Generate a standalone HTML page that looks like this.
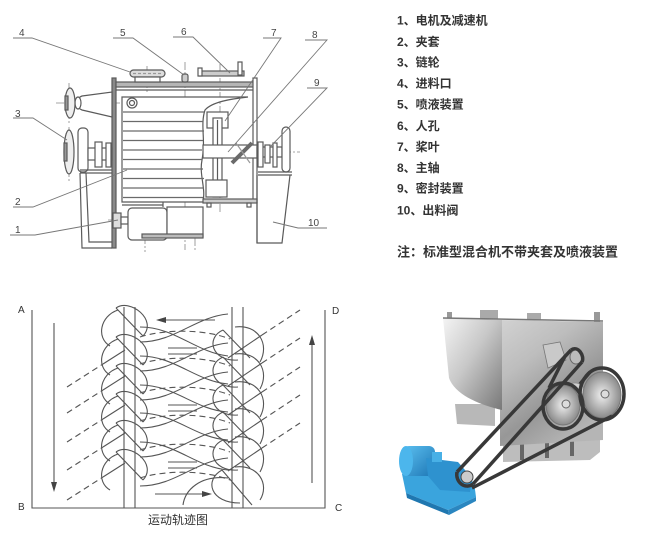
<!DOCTYPE html>
<html><head><meta charset="utf-8"><style>
html,body{margin:0;padding:0;background:#fff;}
svg{display:block;}
.t{font-family:"Liberation Sans","Noto Sans CJK SC",sans-serif;}
</style></head><body>
<svg width="650" height="539" viewBox="0 0 650 539" xmlns="http://www.w3.org/2000/svg">
<defs>
<linearGradient id="gf" x1="0" y1="0" x2="0.6" y2="1">
<stop offset="0" stop-color="#d2d2d2"/><stop offset="0.35" stop-color="#bdbdbd"/><stop offset="0.7" stop-color="#979797"/><stop offset="1" stop-color="#b5b5b5"/></linearGradient>
<linearGradient id="gt" x1="0" y1="0" x2="1" y2="1">
<stop offset="0" stop-color="#f4f4f4"/><stop offset="0.45" stop-color="#c8c8c8"/><stop offset="1" stop-color="#787878"/></linearGradient>
<linearGradient id="gb" x1="0" y1="0" x2="1" y2="1">
<stop offset="0" stop-color="#5cc0f0"/><stop offset="1" stop-color="#1d76b5"/></linearGradient>
<radialGradient id="gp" cx="0.5" cy="0.5" r="0.5"><stop offset="0" stop-color="#f0f0f0"/><stop offset="1" stop-color="#8a8a8a"/></radialGradient>
</defs>

<!-- ============ TOP DRAWING ============ -->
<g stroke="#5a5a5a" stroke-width="1.2" fill="none">
<g stroke="#888" stroke-width="0.8" stroke-dasharray="8,2,2,2">
<line x1="56" y1="103" x2="152" y2="103"/>
<line x1="69" y1="83" x2="69" y2="125"/>
<line x1="69" y1="127" x2="69" y2="182"/>
<line x1="147" y1="66" x2="147" y2="92"/>
<line x1="185" y1="62" x2="185" y2="250"/>
<line x1="220" y1="64" x2="220" y2="213"/>
<line x1="145" y1="222" x2="145" y2="252"/>
<line x1="195" y1="224" x2="195" y2="250"/>
<line x1="255" y1="152" x2="300" y2="152"/>
<line x1="108" y1="220" x2="140" y2="220"/>
</g>
<rect x="112" y="78" width="4" height="170" fill="#8a8a8a"/>
<rect x="116" y="82" width="139" height="5" fill="#b5b5b5"/>
<line x1="116" y1="90" x2="253" y2="90"/>
<rect x="253" y="78" width="4" height="124" fill="#fff"/>
<path d="M122,97 L248,97 C230,99 212,102 205,110 C200,125 206,140 202,160 C199,175 206,188 203,202 L122,202 Z" fill="#fff"/>
<g stroke="#6a6a6a">
<line x1="123" y1="112" x2="204" y2="112"/>
<line x1="123" y1="121.5" x2="203" y2="121.5"/>
<line x1="123" y1="131" x2="204" y2="131"/>
<line x1="123" y1="140.5" x2="203" y2="140.5"/>
<line x1="123" y1="150" x2="202" y2="150"/>
<line x1="123" y1="159.5" x2="202" y2="159.5"/>
<line x1="123" y1="169" x2="203" y2="169"/>
<line x1="123" y1="178.5" x2="204" y2="178.5"/>
<line x1="123" y1="188" x2="204" y2="188"/>
<line x1="123" y1="197.5" x2="203" y2="197.5"/>
</g>
<circle cx="132" cy="103" r="5" fill="#fff"/><circle cx="132" cy="103" r="2.5"/>
<rect x="203" y="199" width="54" height="4" fill="#ccc"/>
<rect x="207" y="203" width="4" height="4"/><rect x="247" y="203" width="4" height="4"/>
<line x1="122" y1="205" x2="163" y2="205"/><line x1="163" y1="202" x2="163" y2="207"/>
<rect x="207" y="112" width="21" height="16" fill="#fff"/>
<rect x="213" y="118" width="9" height="79" fill="#fff"/>
<line x1="217.5" y1="120" x2="217.5" y2="195"/>
<rect x="206" y="180" width="21" height="17" fill="#fff"/>
<rect x="203" y="145" width="54" height="13" fill="#fff"/>
<line x1="232" y1="163" x2="252" y2="143" stroke-width="4" stroke="#6a6a6a"/>
<line x1="236" y1="143" x2="250" y2="163" stroke="#999"/>
<rect x="130" y="70" width="35" height="7" rx="3.5" fill="#ddd"/>
<line x1="133" y1="73.5" x2="162" y2="73.5" stroke="#999" stroke-dasharray="3,2"/>
<rect x="135" y="77" width="25" height="5" fill="#fff"/>
<rect x="182" y="74" width="6" height="8" rx="2" fill="#ccc"/>
<rect x="199" y="71" width="45" height="5" fill="#ccc"/>
<rect x="198" y="68" width="4" height="8" fill="#fff"/>
<rect x="238" y="62" width="4" height="13" fill="#fff"/>
<path d="M82,96 L112,92 L112,117 L82,110 C76,108 76,98 82,96 Z" fill="#fff"/>
<ellipse cx="78" cy="103" rx="3" ry="6" fill="#fff"/>
<ellipse cx="70" cy="103" rx="5" ry="15" fill="#eee"/>
<rect x="65" y="96" width="3" height="14" fill="#999"/>
<ellipse cx="69" cy="152" rx="5" ry="22" fill="#eee"/>
<rect x="64" y="143" width="3" height="18" fill="#999"/>
<rect x="78" y="128" width="10" height="44" rx="4" fill="#fff"/>
<rect x="88" y="148" width="24" height="12" fill="#fff"/>
<rect x="95" y="142" width="7" height="25" fill="#fff"/>
<rect x="106" y="143" width="5" height="24" fill="#fff"/>
<line x1="80" y1="170" x2="112" y2="170"/><line x1="80" y1="173" x2="112" y2="173"/>
<path d="M80,173 L82,248 L112,248"/>
<path d="M86,173 L89,242 L112,242"/>
<rect x="113" y="213" width="8" height="15" fill="#ddd"/>
<rect x="121" y="217" width="7" height="7" fill="#fff"/>
<rect x="128" y="208" width="39" height="32" rx="4" fill="#fff"/>
<rect x="167" y="207" width="36" height="30" fill="#fff"/>
<rect x="142" y="234" width="61" height="4" fill="#bbb"/>
<rect x="257" y="147" width="25" height="10" fill="#fff"/>
<rect x="258" y="142" width="5" height="25" fill="#fff"/>
<rect x="265" y="145" width="5" height="18" fill="#fff"/>
<rect x="273" y="143" width="4" height="24" fill="#fff"/>
<rect x="282" y="127" width="8" height="45" rx="4" fill="#fff"/>
<line x1="258" y1="172" x2="292" y2="172"/><line x1="258" y1="175" x2="292" y2="175"/>
<path d="M257,175 L257,243 L282,243 L290,175"/>
<line x1="257" y1="202" x2="257" y2="243"/>
<g stroke="#777" stroke-width="0.9">
<path d="M13,38 L32,38 L130,72"/>
<path d="M113,38 L133,38 L184,75"/>
<path d="M173,37 L193,37 L230,73"/>
<path d="M263,38 L281,38 L225,121"/>
<path d="M305,40 L327,40 L228,152"/>
<path d="M307,88 L327,88 L270,147"/>
<path d="M13,118 L33,118 L67,140"/>
<path d="M13,207 L33,207 L127,170"/>
<path d="M10,235 L35,235 L118,220"/>
<path d="M273,222 L298,228 L327,228"/>
</g>
</g>
<g class="t" font-size="10" fill="#444">
<text x="19" y="36">4</text>
<text x="120" y="36">5</text>
<text x="181" y="35">6</text>
<text x="271" y="36">7</text>
<text x="312" y="38">8</text>
<text x="314" y="86">9</text>
<text x="15" y="117">3</text>
<text x="15" y="205">2</text>
<text x="15" y="233">1</text>
<text x="308" y="226">10</text>
</g>

<!-- ============ LEGEND ============ -->
<g class="t" font-size="12" fill="#333" font-weight="bold">
<text x="397" y="24.5">1、电机及减速机</text>
<text x="397" y="46">2、夹套</text>
<text x="397" y="66.5">3、链轮</text>
<text x="397" y="87.5">4、进料口</text>
<text x="397" y="108.5">5、喷液装置</text>
<text x="397" y="130">6、人孔</text>
<text x="397" y="151">7、桨叶</text>
<text x="397" y="172">8、主轴</text>
<text x="397" y="192.5">9、密封装置</text>
<text x="397" y="214.5">10、出料阀</text>
<text x="397" y="256.5" font-size="13">注：标准型混合机不带夹套及喷液装置</text>
</g>

<!-- ============ MOTION DIAGRAM ============ -->
<g stroke="#555" stroke-width="1.1" fill="none">
<path d="M32,310 L32,508 L325,508 L325,310"/>
<line x1="124" y1="307" x2="124" y2="508"/><line x1="135" y1="307" x2="135" y2="508"/>
<line x1="232" y1="307" x2="232" y2="508"/><line x1="243" y1="307" x2="243" y2="508"/>
<line x1="54" y1="323" x2="54" y2="486"/>
<line x1="312" y1="341" x2="312" y2="483"/>
<line x1="162" y1="320" x2="215" y2="320"/>
<line x1="155" y1="494" x2="206" y2="494"/>
<line x1="168" y1="348" x2="197" y2="348"/><line x1="168" y1="354" x2="197" y2="354"/>
<line x1="168" y1="405" x2="197" y2="405"/><line x1="168" y1="411" x2="197" y2="411"/>
<line x1="168" y1="462" x2="197" y2="462"/><line x1="168" y1="468" x2="197" y2="468"/>
<path d="M116,308 L143,336 M116,308 C130,298 158,320 143,336 M118,310 C100,316 96,338 110,346"/>
<path d="M116,337 L143,365 M116,337 C130,327 158,349 143,365 M118,339 C100,345 96,367 110,375"/>
<path d="M116,366 L143,394 M116,366 C130,356 158,378 143,394 M118,368 C100,374 96,396 110,404"/>
<path d="M116,394 L143,422 M116,394 C130,384 158,406 143,422 M118,396 C100,402 96,424 110,432"/>
<path d="M116,423 L143,451 M116,423 C130,413 158,435 143,451 M118,425 C100,431 96,453 110,461"/>
<path d="M116,452 L143,480 M116,452 C130,442 158,464 143,480 M118,454 C100,460 96,482 110,490"/>
<path d="M223,330 L250,358 M223,330 C205,338 212,362 238,360 M235,327 C258,324 270,344 260,362"/>
<path d="M223,357 L250,385 M223,357 C205,365 212,389 238,387 M235,354 C258,351 270,371 260,389"/>
<path d="M223,385 L250,413 M223,385 C205,393 212,417 238,415 M235,382 C258,379 270,399 260,417"/>
<path d="M223,412 L250,440 M223,412 C205,420 212,444 238,442 M235,409 C258,406 270,426 260,444"/>
<path d="M223,440 L250,468 M223,440 C205,448 212,472 238,470 M235,437 C258,434 270,454 260,472"/>
<path d="M222,470 L252,505 M222,470 C204,480 210,503 240,503 M235,467 C258,464 270,484 260,500"/>
<path d="M140,342 C175,342 195,317 228,314"/>
<path d="M140,327 C175,327 195,352 228,356"/>
<path d="M140,371 C175,371 195,346 228,343"/>
<path d="M140,356 C175,356 195,381 228,384"/>
<path d="M140,400 C175,400 195,375 228,372"/>
<path d="M140,385 C175,385 195,410 228,412"/>
<path d="M140,428 C175,428 195,403 228,400"/>
<path d="M140,413 C175,413 195,438 228,440"/>
<path d="M140,457 C175,457 195,432 228,429"/>
<path d="M140,442 C175,442 195,467 228,470"/>
<path d="M140,486 C175,486 195,461 228,458"/>
<path d="M183,505 C185,490 200,475 228,478"/>
<path d="M103,364 L125,350 M103,390 L125,376 M103,419 L125,405 M103,447 L125,433 M103,477 L125,463"/>
<path d="M228,358 L262,335 M228,386 L262,363 M228,415 L262,392 M228,443 L262,420 M228,471 L262,448"/>
</g>
<g stroke="#555" stroke-width="1.1" fill="none" stroke-dasharray="6,4">
<path d="M67,387 L103,364 M67,413 L103,390 M67,442 L103,419 M67,470 L103,447 M67,500 L103,477"/>
<path d="M262,335 L300,310 M262,363 L300,338 M262,392 L300,367 M262,420 L300,395 M262,448 L300,423"/>
<path d="M140,337 C165,329 205,329 230,339"/>
<path d="M140,364 C165,356 205,356 230,366"/>
<path d="M140,393 C165,385 205,385 230,395"/>
<path d="M140,421 C165,413 205,413 230,423"/>
<path d="M140,450 C165,442 205,442 230,452"/>
<path d="M140,478 C165,470 205,470 230,480"/>
</g>
<g fill="#444">
<polygon points="54,492 51,482 57,482"/>
<polygon points="312,335 309,345 315,345"/>
<polygon points="156,320 166,317 166,323"/>
<polygon points="212,494 202,491 202,497"/>
</g>
<g class="t" font-size="10" fill="#333">
<text x="18" y="313">A</text>
<text x="332" y="314">D</text>
<text x="18" y="510">B</text>
<text x="335" y="511">C</text>
</g>
<text class="t" x="148" y="524" font-size="12" fill="#333">运动轨迹图</text>

<!-- ============ PHOTO ============ -->
<g>
<rect x="447" y="312" width="5" height="8" fill="#999"/>
<rect x="480" y="310" width="18" height="9" fill="#aaa"/>
<rect x="527" y="313" width="14" height="7" fill="#aaa"/>
<rect x="594" y="312" width="6" height="10" fill="#999"/>
<polygon points="455,404 495,404 495,426 457,424" fill="#b8b8b8"/>
<polygon points="503,436 600,436 600,452 590,460 503,462" fill="#bdbdbd"/>
<rect x="520" y="442" width="4" height="18" fill="#666"/>
<rect x="545" y="442" width="4" height="16" fill="#666"/>
<rect x="570" y="440" width="4" height="16" fill="#666"/>
<polygon points="500,320 603,322 603,440 500,446" fill="url(#gf)"/>
<path d="M443,318 L502,320 L502,410 C480,405 455,395 449,378 Z" fill="url(#gt)"/>
<line x1="443" y1="318" x2="603" y2="321" stroke="#777" stroke-width="1.5"/>
<polygon points="543,345 560,342 566,360 548,368" fill="#c9c9c9" stroke="#777" stroke-width="0.8"/>
<ellipse cx="575" cy="390" rx="9" ry="7" fill="#cfcfcf" stroke="#888" stroke-width="0.8"/>
<ellipse cx="563" cy="405" rx="17" ry="20" fill="url(#gp)" stroke="#777"/>
<circle cx="566" cy="404" r="4" fill="#ddd" stroke="#666"/>
<ellipse cx="602" cy="395" rx="19" ry="23" fill="url(#gp)" stroke="#777"/>
<circle cx="605" cy="394" r="4" fill="#ddd" stroke="#666"/>
<ellipse cx="576" cy="357" rx="6" ry="7" fill="#bbb" stroke="#666"/>
<polygon points="402,474 427,467 474,482 476,497 448,510 406,493" fill="#3aa4dd"/>
<polygon points="406,493 448,510 449,515 407,498" fill="#1f77b0"/>
<polygon points="448,510 476,497 476,501 449,515" fill="#2a86c0"/>
<rect x="403" y="446" width="32" height="30" rx="6" fill="url(#gb)"/>
<ellipse cx="406" cy="461" rx="7" ry="15" fill="#4cb6ec"/>
<polygon points="426,458 458,462 472,478 470,492 440,490 428,476" fill="#2e92cf"/>
<rect x="432" y="452" width="10" height="10" fill="#48b0e6"/>
<circle cx="467" cy="477" r="6" fill="#ccc" stroke="#444"/>
<g stroke="#383838" stroke-width="3.5" fill="none">
<line x1="457" y1="472" x2="571" y2="350"/>
<line x1="473" y1="484" x2="582" y2="362"/>
<path d="M571,350 C578,345 585,356 582,362"/>
<path d="M457,472 C455,482 465,490 473,484"/>
<path d="M565,356 L549,388"/>
<ellipse cx="563" cy="406" rx="20" ry="23"/>
<ellipse cx="602" cy="394" rx="22" ry="26"/>
<line x1="472" y1="488" x2="612" y2="416"/>
<line x1="580" y1="384" x2="590" y2="372"/>
</g>
</g>
</svg>
</body></html>
